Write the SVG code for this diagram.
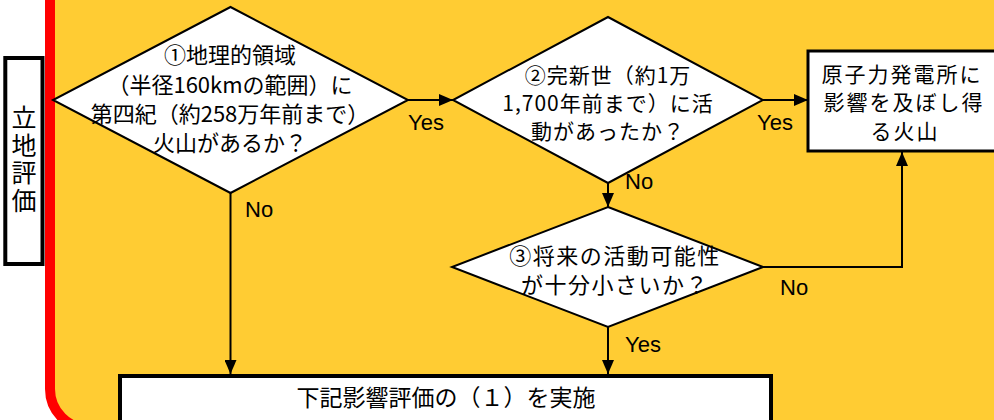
<svg xmlns="http://www.w3.org/2000/svg" width="994" height="420" viewBox="0 0 994 420">
<defs>
<style>
.jp{font-family:"Noto Sans CJK JP","Noto Sans",sans-serif;fill:#000;text-anchor:middle}
.lb{font-family:"Liberation Sans",Arial,sans-serif;font-size:22px;fill:#000}
.dm{fill:#fff;stroke:#000;stroke-width:2}
.bx{fill:#fff;stroke:#000}
.cn{fill:none;stroke:#000;stroke-width:2;marker-end:url(#ah)}
</style>
<marker id="ah" markerUnits="userSpaceOnUse" markerWidth="14" markerHeight="12" refX="14" refY="6" orient="auto">
<path d="M0,0 L14,6 L0,12 z" fill="#000"/>
</marker>
</defs>
<rect x="0" y="0" width="994" height="420" fill="#fff"/>
<rect id="panel" x="50" y="-60" width="1000" height="489" rx="40" ry="40" fill="#FFCC33" stroke="#FF0000" stroke-width="10"/>
<g id="label">
<rect x="5.3" y="58" width="37.2" height="206" class="bx" stroke-width="4"/>
<text font-family="'Noto Sans CJK JP','Noto Sans',sans-serif" font-size="25" writing-mode="vertical-rl" letter-spacing="2.5" x="24" y="105">立地評価</text>
</g>
<g id="connectors">
<line x1="408" y1="100" x2="453" y2="100" class="cn"/>
<line x1="763" y1="100" x2="808" y2="100" class="cn"/>
<line x1="608" y1="183" x2="608" y2="207" class="cn"/>
<line x1="608" y1="327" x2="608" y2="374" class="cn"/>
<line x1="230.5" y1="193" x2="230.5" y2="374" class="cn"/>
<polyline points="763,267 902,267 902,152" class="cn"/>
<text class="lb" x="408" y="130">Yes</text>
<text class="lb" x="757" y="130">Yes</text>
<text class="lb" x="245" y="217">No</text>
<text class="lb" x="625" y="189">No</text>
<text class="lb" x="780" y="295">No</text>
<text class="lb" x="625" y="352">Yes</text>
</g>
<g id="q1">
<polygon points="230.5,7 408,100 230.5,193 53,100" class="dm"/>
<text class="jp" font-size="22" x="230" y="62.5">①地理的領域</text>
<text class="jp" font-size="22" x="230" y="92.5">（半径160kmの範囲）に</text>
<text class="jp" font-size="22" x="230" y="121.5">第四紀（約258万年前まで）</text>
<text class="jp" font-size="22" x="230" y="151">火山があるか？</text>
</g>
<g id="q2">
<polygon points="608,17 763,100 608,183 453,100" class="dm"/>
<text class="jp" font-size="21" letter-spacing="1" x="608" y="83">②完新世（約1万</text>
<text class="jp" font-size="21" letter-spacing="1" x="608" y="111">1,700年前まで）に活</text>
<text class="jp" font-size="21" letter-spacing="1" x="608" y="139">動があったか？</text>
</g>
<g id="volcano">
<rect x="808" y="51" width="192" height="100" class="bx" stroke-width="3"/>
<text class="jp" font-size="21" letter-spacing="2" x="902" y="81.5">原子力発電所に</text>
<text class="jp" font-size="21" letter-spacing="2" x="904" y="110">影響を及ぼし得</text>
<text class="jp" font-size="21" letter-spacing="2" x="905" y="139">る火山</text>
</g>
<g id="q3">
<polygon points="608,207 763,267 608,327 452,267" class="dm"/>
<text class="jp" font-size="22" letter-spacing="1.5" x="615" y="264">③将来の活動可能性</text>
<text class="jp" font-size="22" letter-spacing="1.5" x="615" y="293">が十分小さいか？</text>
</g>
<g id="impact">
<rect x="120" y="376" width="651" height="60" class="bx" stroke-width="4"/>
<text class="jp" font-size="23" x="446" y="406">下記影響評価の（１）を実施</text>
</g>
</svg>
